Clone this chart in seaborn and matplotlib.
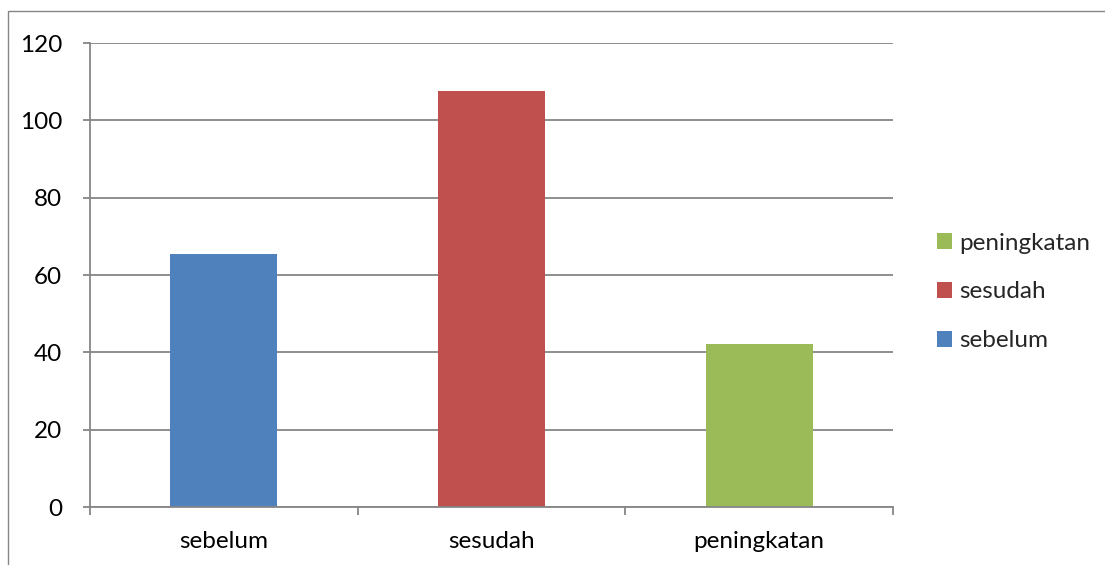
import matplotlib
matplotlib.use("Agg")
import matplotlib.pyplot as plt
import seaborn as sns
import pandas as pd
from matplotlib.patches import Rectangle, Patch

categories = ["sebelum", "sesudah", "peningkatan"]
values = [65.4, 107.5, 42.1]
colors = ["#4F81BD", "#C0504D", "#9BBB59"]
yticks = [0, 20, 40, 60, 80, 100, 120]

sns.set_theme(style="white")
plt.rcParams["font.family"] = ["Lato", "DejaVu Sans"]

W, H = 1105, 565
FS = 17.5
fig = plt.figure(figsize=(W / 100, H / 100), dpi=100)
fig.patch.set_facecolor("white")

# outer chart border
fig.add_artist(Rectangle((8 / W, -0.05), 1.2, (H - 11) / H + 0.05, transform=fig.transFigure,
                         fill=False, edgecolor="#868686", linewidth=1.0))

ax = fig.add_axes([90 / W, 1 - 507 / H, (893 - 90) / W, (507 - 43) / H])
df = pd.DataFrame({"cat": categories, "val": values})
sns.barplot(data=df, x="cat", y="val", hue="cat", palette=colors, width=0.4,
            legend=False, ax=ax, saturation=1, linewidth=0)

ax.set_ylim(0, 120)
ax.set_xlim(-0.5, 2.5)
ax.set_yticks(yticks)
ax.set_yticklabels([str(t) for t in yticks])
ax.set_xlabel("")
ax.set_ylabel("")
ax.yaxis.grid(True, color="#868686", linewidth=1.3)
ax.set_axisbelow(True)
for s in ["top", "right"]:
    ax.spines[s].set_visible(False)
for s in ["left", "bottom"]:
    ax.spines[s].set_color("#868686")
    ax.spines[s].set_linewidth(1.3)

ax.tick_params(axis="y", which="major", length=5, color="#868686", width=1.3,
               labelsize=FS, pad=15, left=True, labelcolor="black")
ax.set_xticks([0, 1, 2])
ax.set_xticklabels(categories)
ax.tick_params(axis="x", which="major", length=0, labelsize=FS, pad=17, labelcolor="black")
ax.set_xticks([-0.5, 0.5, 1.5, 2.5], minor=True)
ax.tick_params(axis="x", which="minor", length=6, color="#868686", width=1.3, bottom=True)

handles = [Patch(facecolor=c, edgecolor="none") for c in colors]
leg = fig.legend(handles[::-1], categories[::-1], loc="center left",
                 bbox_to_anchor=(925 / W, 1 - 292 / H), frameon=False,
                 fontsize=FS, handlelength=0.62, handleheight=0.62,
                 handletextpad=0.3, labelspacing=1.15, borderpad=0)

fig.savefig("out.png", dpi=100, facecolor="white")
